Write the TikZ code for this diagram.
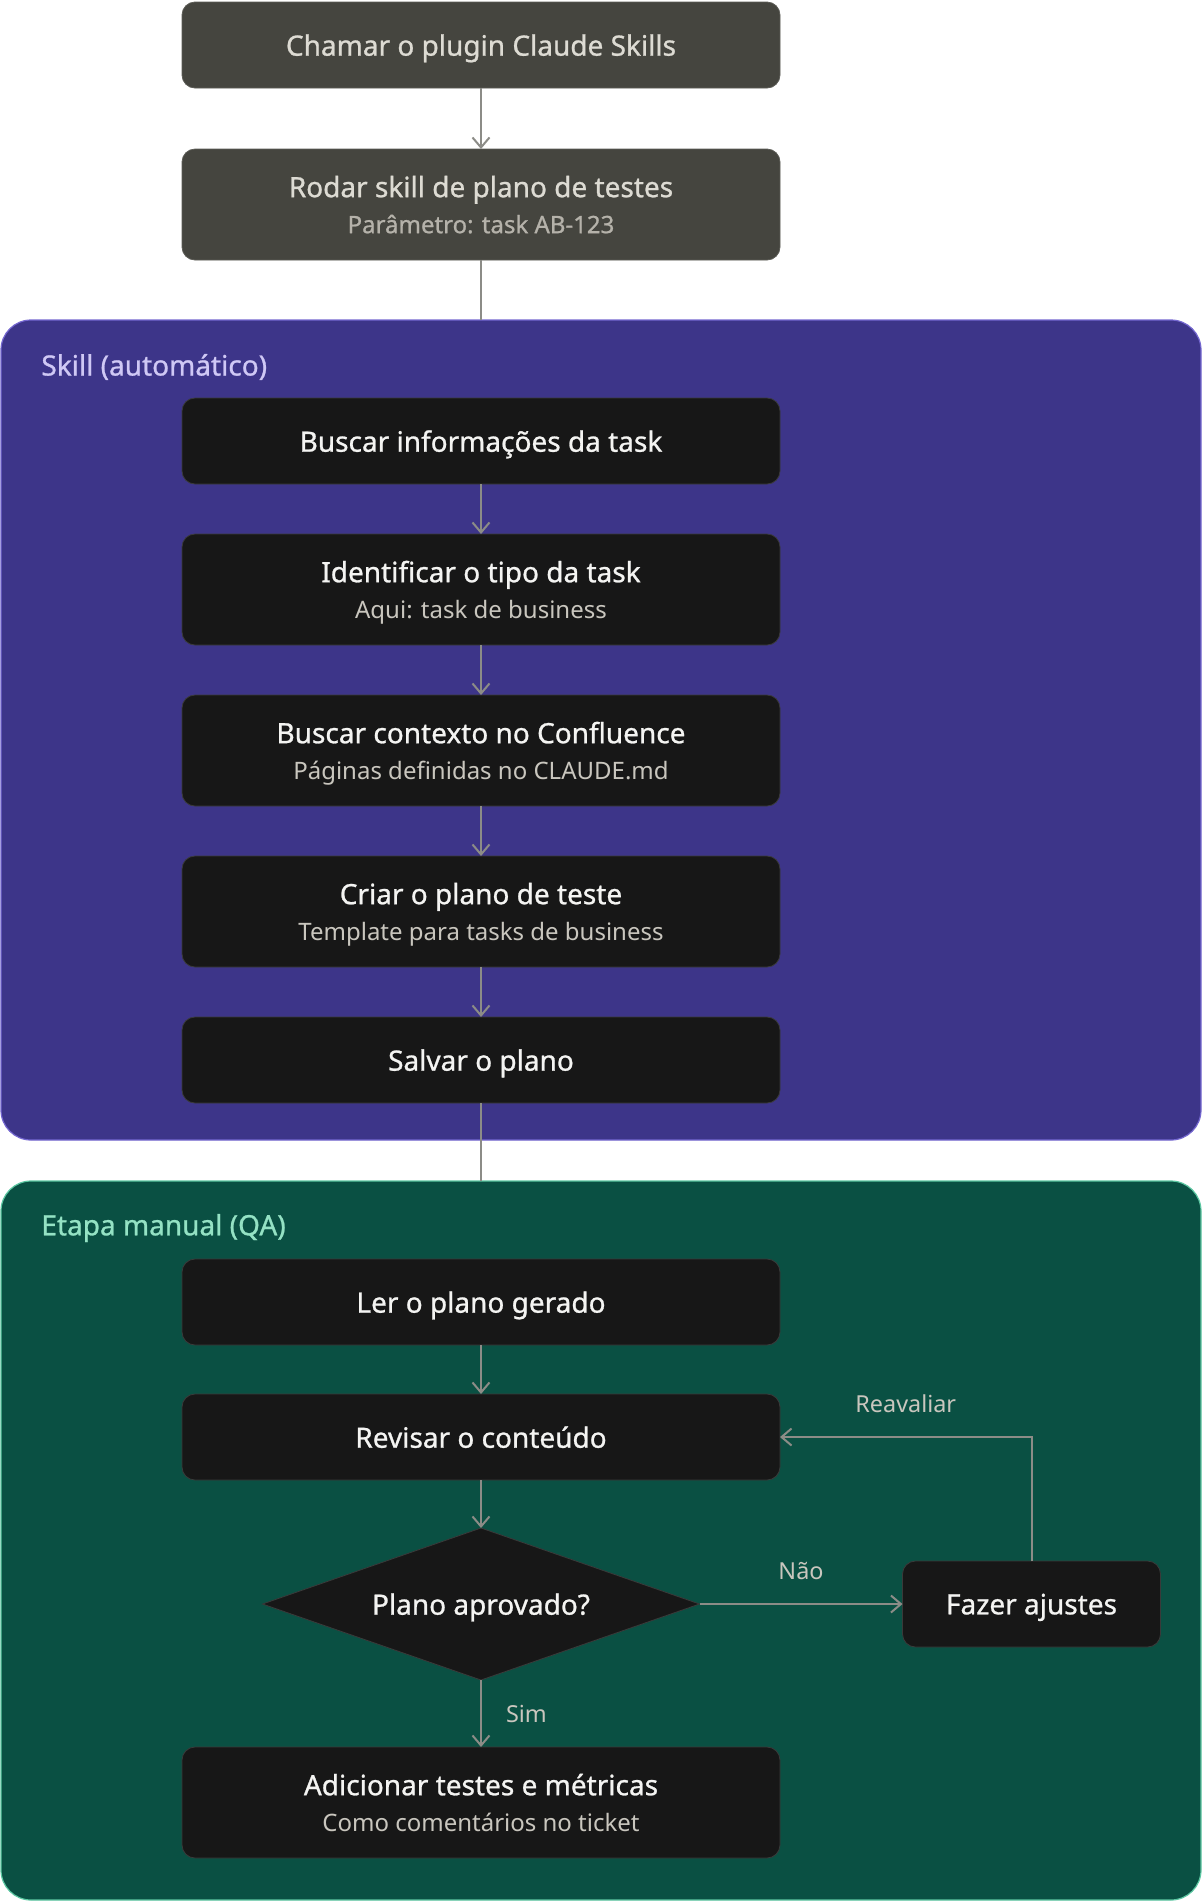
\documentclass[tikz,border=0pt]{standalone}
\usepackage{fontspec}
\setmainfont{Noto Sans}
\newfontfamily\medfont{Noto Sans}[FakeBold=0.9]
\usetikzlibrary{positioning,shapes.geometric,arrows.meta}

\definecolor{topfill}{HTML}{45453F}
\definecolor{topline}{HTML}{5C5C56}
\definecolor{toptext}{HTML}{DDDBD3}
\definecolor{topsub}{HTML}{B5B2AA}
\definecolor{stepfill}{HTML}{171717}
\definecolor{stepline}{HTML}{3A3A3A}
\definecolor{steptext}{HTML}{F4F4F2}
\definecolor{stepsub}{HTML}{C9C6BE}
\definecolor{skillfill}{HTML}{3D3589}
\definecolor{skillline}{HTML}{7467D0}
\definecolor{skilltext}{HTML}{CFC8F5}
\definecolor{qafill}{HTML}{0A5043}
\definecolor{qaline}{HTML}{5CC7A2}
\definecolor{qatext}{HTML}{94E2C4}
\definecolor{wire}{HTML}{8C8C87}

\newcommand{\stepnote}[1]{\\[2pt]{\fontspec{Noto Sans}\fontsize{12}{14}\selectfont\color{stepsub}#1}}
\newcommand{\topnote}[1]{\\[2pt]{\fontsize{12}{14}\selectfont\color{topsub}#1}}

\begin{document}
\begin{tikzpicture}[x=0.5pt,y=-0.5pt,
        topbox/.style={draw=topline,fill=topfill,text=toptext,rounded corners=6.5pt,
            minimum width=299pt,minimum height=43pt,inner sep=0pt,outer sep=0pt,align=center,
            text depth=0pt,font=\medfont\fontsize{14}{16}\selectfont},
        stepbox/.style={topbox,draw=stepline,fill=stepfill,text=steptext},
        twoline/.style={minimum height=55.5pt},
        group/.style={draw,line width=0.6pt,rounded corners=15pt,minimum width=600pt,inner sep=0pt,outer sep=0pt},
        grouplabel/.style={anchor=west,inner sep=0pt,font=\medfont\fontsize{14}{16}\selectfont},
        lbl/.style={inner sep=0pt,text=stepsub,font=\fontsize{11.7}{13}\selectfont},
        wire/.style={draw=wire,line width=1pt},
        flow/.style={wire,-{Straight Barb[length=5pt,width=8.5pt]}}]
   \useasboundingbox (0,0) rectangle (1202,1902);
   % the two lanes
   \node[group,draw=skillline,fill=skillfill,minimum height=410pt] (skill) at (601,730) {};
   \node[group,draw=qaline,fill=qafill,minimum height=359.5pt] (qa) at (601,1540.5) {};
   \node[grouplabel,text=skilltext] (skilllbl) at (41,367) {Skill (automático)};
   \node[grouplabel,text=qatext] (qalbl) at (41,1228) {Etapa manual (QA)};
   % steps
   \node[topbox] (chamar) at (481,45) {Chamar o plugin Claude Skills};
   \node[topbox,twoline,below=30.5pt of chamar] (rodar) {Rodar skill de plano de testes\topnote{Parâmetro: task AB-123}};
   \node[stepbox,below=69pt of rodar] (buscar) {Buscar informações da task};
   \node[stepbox,twoline,below=25pt of buscar] (tipo) {Identificar o tipo da task\stepnote{Aqui: task de business}};
   \node[stepbox,twoline,below=25pt of tipo] (contexto) {Buscar contexto no Confluence\stepnote{Páginas definidas no CLAUDE.md}};
   \node[stepbox,twoline,below=25pt of contexto] (criar) {Criar o plano de teste\stepnote{Template para tasks de business}};
   \node[stepbox,below=25pt of criar] (salvar) {Salvar o plano};
   \node[stepbox,below=78pt of salvar] (ler) {Ler o plano gerado};
   \node[stepbox,below=24.5pt of ler] (revisar) {Revisar o conteúdo};
   \node[stepbox,diamond,rounded corners=0pt,shape aspect=2.875,minimum width=218.5pt,minimum height=76pt,
         below=24pt of revisar] (aprovado) {Plano aprovado?};
   \node[stepbox,minimum width=129pt,right=101.5pt of aprovado] (ajustes) {Fazer ajustes};
   \node[stepbox,twoline,below=33.5pt of aprovado] (adicionar) {Adicionar testes e métricas\stepnote{Como comentários no ticket}};
   % connectors
   \draw[flow] (chamar) -- (rodar);
   \draw[wire] (rodar) -- (rodar.south |- skill.north);
   \draw[flow] (buscar) -- (tipo);
   \draw[flow] (tipo) -- (contexto);
   \draw[flow] (contexto) -- (criar);
   \draw[flow] (criar) -- (salvar);
   \draw[wire] (salvar) -- (salvar.south |- qa.north);
   \draw[flow] (ler) -- (revisar);
   \draw[flow] (revisar) -- (aprovado);
   \draw[flow] (aprovado) -- node[lbl,above=11.5pt] {Não} (ajustes);
   \draw[flow] (aprovado) -- node[lbl,right=12pt] {Sim} (adicionar);
   \draw[flow] (ajustes) |- node[lbl,pos=0.75,above=11.5pt] {Reavaliar} (revisar);
\end{tikzpicture}
\end{document}
